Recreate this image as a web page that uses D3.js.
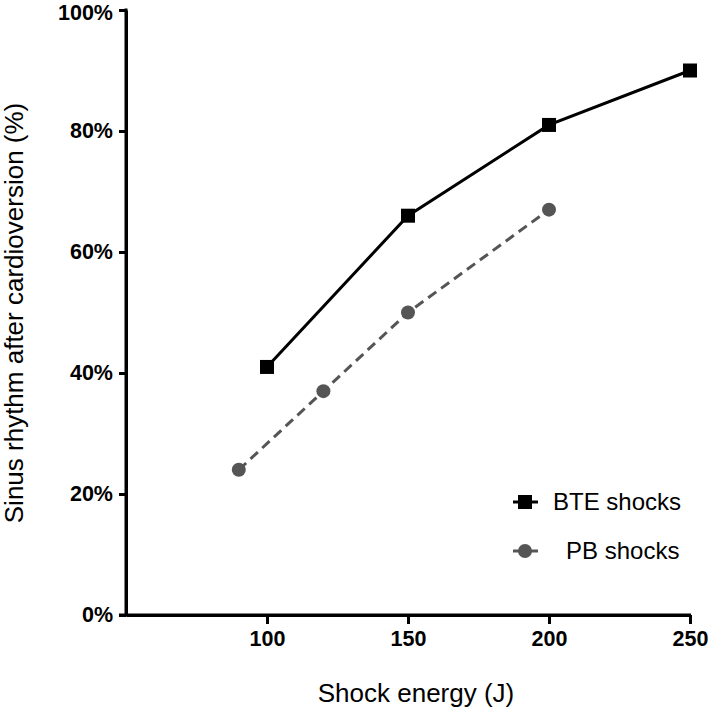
<!DOCTYPE html>
<html><head><meta charset="utf-8">
<script src="https://cdn.jsdelivr.net/npm/d3@7"></script>
<style>body{margin:0;background:#fff}svg{display:block}text{font-family:"Liberation Sans",Arial,sans-serif}</style>
</head><body>
<script>
const bteEnergy = [100, 150, 200, 250];
const bteValues = [41, 66, 81, 90];
const pbEnergy = [90, 120, 150, 200];
const pbValues = [24, 37, 50, 67];
const xTicks = [100, 150, 200, 250];
const yTicks = [0, 20, 40, 60, 80, 100];

const W = 709, H = 713;
const svg = d3.select("body").append("svg").attr("width", W).attr("height", H);
const x = d3.scaleLinear().domain([50, 250]).range([126, 690]);
const y = d3.scaleLinear().domain([0, 100]).range([615, 10]);

const xAxis = svg.append("g").attr("transform", "translate(0,615)")
  .call(d3.axisBottom(x).tickValues(xTicks).tickSize(9).tickPadding(7).tickSizeOuter(0));
const yAxis = svg.append("g").attr("transform", "translate(126,0)")
  .call(d3.axisLeft(y).tickValues(yTicks).tickFormat(d => d + "%").tickSize(7).tickPadding(6).tickSizeOuter(0));
[xAxis, yAxis].forEach(g => {
  g.select(".domain").attr("stroke", "#000").attr("stroke-width", 3);
  g.selectAll(".tick line").attr("stroke", "#000").attr("stroke-width", 3);
  g.selectAll(".tick text").attr("fill", "#000").style("font-size", "21.5px").style("font-weight", "bold");
});
yAxis.selectAll(".tick text").filter(d => d === 100).attr("dy", "0.42em");
svg.append("line").attr("x1", 119).attr("x2", 691).attr("y1", 615).attr("y2", 615).attr("stroke", "#000").attr("stroke-width", 3);
svg.append("line").attr("x1", 126).attr("x2", 126).attr("y1", 8.5).attr("y2", 616).attr("stroke", "#000").attr("stroke-width", 3);

svg.append("text").attr("x", 416).attr("y", 702).attr("text-anchor", "middle").style("font-size", "26px").text("Shock energy (J)");
svg.append("text").attr("transform", "translate(23,313) rotate(-90)").attr("text-anchor", "middle").style("font-size", "26px").text("Sinus rhythm after cardioversion (%)");

const bte = bteEnergy.map((e, i) => ({e, v: bteValues[i]}));
const pb = pbEnergy.map((e, i) => ({e, v: pbValues[i]}));
const line = d3.line().x(d => x(d.e)).y(d => y(d.v));

svg.append("path").datum(pb).attr("d", line).attr("fill", "none").attr("stroke", "#555").attr("stroke-width", 3).attr("stroke-dasharray", "10,6");
svg.selectAll(".pb").data(pb).enter().append("circle").attr("cx", d => x(d.e)).attr("cy", d => y(d.v)).attr("r", 7).attr("fill", "#555");

svg.append("path").datum(bte).attr("d", line).attr("fill", "none").attr("stroke", "#000").attr("stroke-width", 3);
svg.selectAll(".bte").data(bte).enter().append("rect").attr("x", d => x(d.e) - 7).attr("y", d => y(d.v) - 7).attr("width", 14).attr("height", 14).attr("fill", "#000");

const lg = svg.append("g");
lg.append("line").attr("x1", 513).attr("x2", 538).attr("y1", 502).attr("y2", 502).attr("stroke", "#000").attr("stroke-width", 3);
lg.append("rect").attr("x", 518).attr("y", 495).attr("width", 14).attr("height", 14).attr("fill", "#000");
lg.append("text").attr("x", 553).attr("y", 510).style("font-size", "24px").text("BTE shocks");
lg.append("line").attr("x1", 513).attr("x2", 538).attr("y1", 551).attr("y2", 551).attr("stroke", "#555").attr("stroke-width", 3);
lg.append("circle").attr("cx", 525).attr("cy", 551).attr("r", 7).attr("fill", "#555");
lg.append("text").attr("x", 566).attr("y", 559).style("font-size", "24px").text("PB shocks");
</script>
</body></html>
